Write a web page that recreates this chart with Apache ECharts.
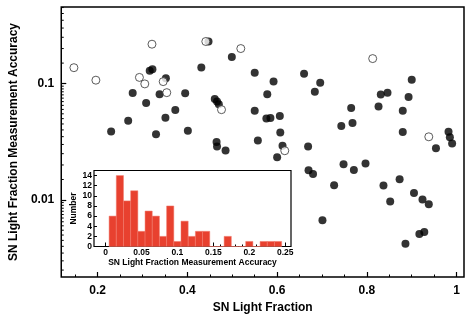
<!DOCTYPE html>
<html lang="en" style="height: 100%">

<head>
  <meta charset="utf-8">
</head>

<body style="height: 100%; margin: 0">
  <div id="container" style="width: 472px; height: 334px"></div>

  <script type="text/javascript" src="https://fastly.jsdelivr.net/npm/echarts@6/dist/echarts.min.js"></script>

  <script type="text/javascript">
    // SN light fraction vs. measurement accuracy, [fraction, accuracy]
    var filledPoints = [
      [0.316, 0.129], [0.322, 0.133], [0.352, 0.111], [0.278, 0.0831], [0.338, 0.0809],
      [0.395, 0.0825], [0.308, 0.0682], [0.373, 0.0593], [0.351, 0.0509], [0.268, 0.048],
      [0.230, 0.0388], [0.330, 0.0368], [0.401, 0.0393], [0.447, 0.230], [0.431, 0.1375],
      [0.499, 0.169], [0.550, 0.124], [0.461, 0.0738], [0.466, 0.070], [0.470, 0.0666],
      [0.550, 0.0585], [0.465, 0.0315], [0.466, 0.0288], [0.485, 0.0266], [0.557, 0.0324],
      [0.660, 0.1215], [0.696, 0.1016], [0.684, 0.085], [0.592, 0.104], [0.578, 0.0809],
      [0.576, 0.0501], [0.585, 0.0507], [0.606, 0.0528], [0.607, 0.038], [0.612, 0.0293],
      [0.600, 0.02325], [0.669, 0.0288], [0.670, 0.018], [0.680, 0.0167], [0.748, 0.0203],
      [0.771, 0.0181], [0.797, 0.0206], [0.727, 0.0134], [0.837, 0.0133], [0.873, 0.0151],
      [0.905, 0.0115], [0.852, 0.0097], [0.924, 0.0101], [0.938, 0.0092], [0.701, 0.0067],
      [0.917, 0.0051], [0.928, 0.0053], [0.886, 0.0042], [0.765, 0.0617], [0.743, 0.0433],
      [0.768, 0.0458], [0.831, 0.0804], [0.846, 0.0833], [0.826, 0.0637], [0.900, 0.108],
      [0.893, 0.0768], [0.880, 0.0585], [0.880, 0.0384], [0.982, 0.0386], [0.985, 0.0346],
      [0.990, 0.0306], [0.954, 0.0279]
    ]
    var openPoints = [
      [0.147, 0.137], [0.196, 0.107], [0.321, 0.218], [0.293, 0.113], [0.305, 0.0994],
      [0.346, 0.104], [0.354, 0.0836], [0.441, 0.230], [0.519, 0.200], [0.476, 0.0597],
      [0.813, 0.164], [0.938, 0.0349], [0.617, 0.0265]
    ]

    // inset histogram (bins 0.01 wide)
    var binCenters = [0.01, 0.02, 0.03, 0.04, 0.05, 0.06, 0.07, 0.08, 0.09, 0.10, 0.11, 0.12,
      0.13, 0.14, 0.15, 0.16, 0.17, 0.18, 0.19, 0.20, 0.21, 0.22, 0.23, 0.24]
    var binCounts = [6, 14, 9, 11, 3, 7, 6, 2, 8, 1, 5, 2, 3, 3, 0, 0, 2, 0, 0, 1, 0, 1, 1, 1]

    // ticks
    var xMajorTicks = [0.2, 0.4, 0.6, 0.8, 1]
    var xMinorTicks = [0.15, 0.25, 0.3, 0.35, 0.45, 0.5, 0.55, 0.65, 0.7, 0.75, 0.85, 0.9, 0.95]
    var yMinorTicks = [0.0025, 0.003, 0.0035, 0.004, 0.0045, 0.005, 0.0055, 0.006, 0.0065, 0.007,
      0.0075, 0.008, 0.0085, 0.009, 0.0095,
      0.015, 0.02, 0.025, 0.03, 0.035, 0.04, 0.045, 0.05, 0.055, 0.06, 0.065, 0.07, 0.075, 0.08,
      0.085, 0.09, 0.095,
      0.15, 0.2, 0.25, 0.3, 0.35, 0.4, 0.45]
    var insetMajorTicks = [0, 0.05, 0.1, 0.15, 0.2, 0.25]
    var insetMinorTicks = [0.01, 0.02, 0.03, 0.04, 0.06, 0.07, 0.08, 0.09, 0.11, 0.12, 0.13, 0.14,
      0.16, 0.17, 0.18, 0.19, 0.21, 0.22, 0.23, 0.24]

    var font = "'Liberation Sans', Arial, sans-serif"
    var dom = document.getElementById('container');
    var myChart = echarts.init(dom, null, { renderer: 'canvas' });

    var option = {
      animation: false,
      grid: [
        {
          left: 55, top: 7, width: 409, height: 270,
          show: true, borderColor: '#000', borderWidth: 1.5, backgroundColor: '#fff'
        },
        {
          left: 94, top: 170.5, width: 197, height: 76,
          show: true, borderColor: '#000', borderWidth: 1.2, backgroundColor: '#fff'
        }
      ],
      xAxis: [
        {
          type: 'value', gridIndex: 0, position: 'bottom', min: 0.1188, max: 1.0165,
          axisLine: { show: false, onZero: false },
          splitLine: { show: false },
          axisTick: { inside: true, length: 5, customValues: xMajorTicks, lineStyle: { color: '#000', width: 1.2 } },
          axisLabel: {
            customValues: xMajorTicks, margin: 8, color: '#000', fontSize: 12, fontWeight: 'bold', fontFamily: font,
            formatter: function (v) { return String(v) }
          },
          name: 'SN Light Fraction', nameLocation: 'middle', nameGap: 22,
          nameTextStyle: { color: '#000', fontSize: 12, fontWeight: 'bold', fontFamily: font }
        },
        {
          // minor ticks only
          type: 'value', gridIndex: 0, position: 'bottom', min: 0.1188, max: 1.0165,
          axisLine: { show: false, onZero: false },
          splitLine: { show: false },
          axisTick: { inside: true, length: 2.5, customValues: xMinorTicks, lineStyle: { color: '#000', width: 1 } },
          axisLabel: { show: false }
        },
        {
          type: 'value', gridIndex: 1, position: 'bottom', min: -0.016, max: 0.258,
          axisLine: { show: false, onZero: false },
          splitLine: { show: false },
          axisTick: { inside: true, length: 4, customValues: insetMajorTicks, lineStyle: { color: '#000', width: 1 } },
          axisLabel: {
            customValues: insetMajorTicks, margin: 2, color: '#000', fontSize: 8.5, fontWeight: 'bold', fontFamily: font,
            formatter: function (v) { return String(v) }
          },
          name: 'SN Light Fraction Measurement Accuracy', nameLocation: 'middle', nameGap: 11,
          nameTextStyle: { color: '#000', fontSize: 8.5, fontWeight: 'bold', fontFamily: font }
        },
        {
          type: 'value', gridIndex: 1, position: 'bottom', min: -0.016, max: 0.258,
          axisLine: { show: false, onZero: false },
          splitLine: { show: false },
          axisTick: { inside: true, length: 2, customValues: insetMinorTicks, lineStyle: { color: '#000', width: 1 } },
          axisLabel: { show: false }
        }
      ],
      yAxis: [
        {
          type: 'log', gridIndex: 0, min: 0.00218, max: 0.455,
          axisLine: { show: false, onZero: false },
          splitLine: { show: false },
          axisTick: { inside: true, length: 5, lineStyle: { color: '#000', width: 1.2 } },
          axisLabel: {
            showMinLabel: false, showMaxLabel: false, margin: 7,
            color: '#000', fontSize: 12, fontWeight: 'bold', fontFamily: font,
            formatter: function (v) { return String(+(+v).toPrecision(2)) }
          },
          name: 'SN Light Fraction Measurement Accuracy', nameLocation: 'middle', nameGap: 30,
          nameTextStyle: { color: '#000', fontSize: 12, fontWeight: 'bold', fontFamily: font }
        },
        {
          type: 'value', gridIndex: 1, min: 0, max: 15, interval: 2,
          axisLine: { show: false, onZero: false },
          splitLine: { show: false },
          axisTick: { inside: true, length: 3, lineStyle: { color: '#000', width: 1 } },
          axisLabel: {
            showMaxLabel: false, margin: 2,
            color: '#000', fontSize: 8.5, fontWeight: 'bold', fontFamily: font
          },
          name: 'Number', nameLocation: 'middle', nameGap: 11,
          nameTextStyle: { color: '#000', fontSize: 8.5, fontWeight: 'bold', fontFamily: font }
        }
      ],
      series: [
        {
          // minor ticks of the log axis
          type: 'custom', xAxisIndex: 0, yAxisIndex: 0, silent: true, z: 1,
          data: yMinorTicks.map(function (v) { return [0.5, v] }),
          renderItem: function (params, api) {
            var y = api.coord([api.value(0), api.value(1)])[1]
            var x0 = params.coordSys.x
            return {
              type: 'line',
              shape: { x1: x0, y1: y, x2: x0 + 2.5, y2: y },
              style: { stroke: '#000', lineWidth: 1 }
            }
          }
        },
        {
          type: 'scatter', xAxisIndex: 0, yAxisIndex: 0, silent: true, z: 2,
          symbol: 'circle', symbolSize: 8,
          itemStyle: { color: '#000' },
          data: filledPoints
        },
        {
          type: 'scatter', xAxisIndex: 0, yAxisIndex: 0, silent: true, z: 3,
          symbol: 'circle', symbolSize: 8,
          itemStyle: { color: '#fff', borderColor: '#333', borderWidth: 1 },
          data: openPoints
        },
        {
          type: 'custom', xAxisIndex: 2, yAxisIndex: 1, silent: true, z: 4,
          data: binCenters.map(function (c, i) { return [c, binCounts[i]] }),
          renderItem: function (params, api) {
            var p0 = api.coord([api.value(0) - 0.005, 0])
            var p1 = api.coord([api.value(0) + 0.005, api.value(1)])
            return {
              type: 'rect',
              shape: { x: p0[0], y: p1[1], width: p1[0] - p0[0], height: p0[1] - p1[1] },
              style: { fill: '#e8412f', stroke: '#f07a6c', lineWidth: 0.5 }
            }
          }
        }
      ]
    };

    myChart.setOption(option);
    window.addEventListener('resize', myChart.resize);
  </script>
</body>

</html>
